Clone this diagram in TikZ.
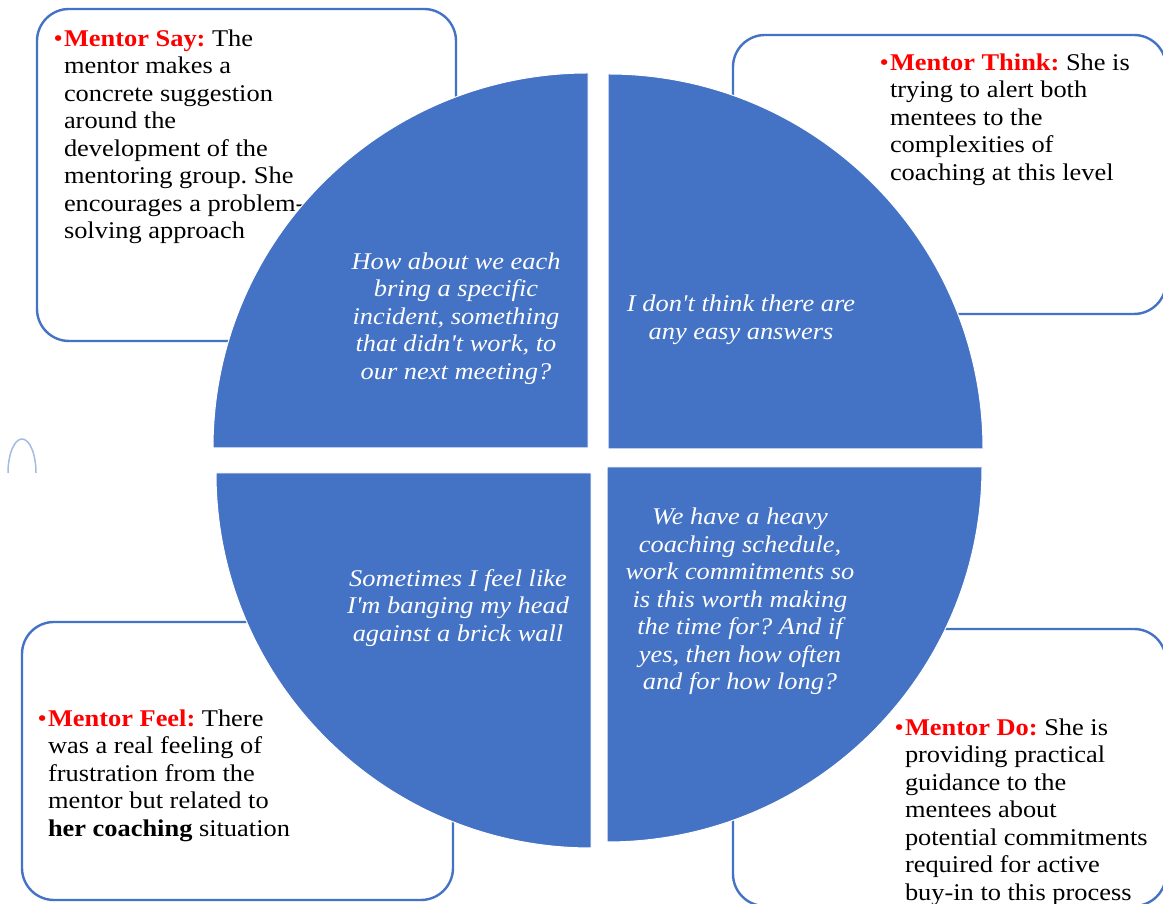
\documentclass[tikz,border=0pt]{standalone}
\usepackage{fontspec}
\setmainfont{Liberation Serif}
\newfontfamily\quotefont{Liberation Serif}
\usepackage{tikz}
\definecolor{quadblue}{HTML}{4472C4}
\definecolor{archblue}{HTML}{A4BBE6}
\definecolor{mentorred}{HTML}{FF0000}
\newcommand{\mentorlead}[1]{\llap{\textcolor{mentorred}{\textbullet}\kern1pt}\textcolor{mentorred}{\textbf{#1}}}
\frenchspacing

\begin{document}
\begin{tikzpicture}[x=1pt, y=1pt,
  every node/.style={inner sep=0pt, outer sep=0pt},
  card/.style={draw=quadblue, line width=2.4pt, rounded corners=32pt},
  quad/.style={fill=quadblue, draw=white, line width=1pt},
  note/.style={anchor=north west, align=left, xscale=1.1, transform shape, font=\fontsize{24}{27.5}\selectfont},
  quote/.style={align=center, text=white, xscale=1.1, transform shape, font=\fontsize{24}{27.5}\selectfont\quotefont\itshape}]
\useasboundingbox[fill=white] (0,0) rectangle (1163,904);

\draw[card] (37,563) rectangle (456,895);
\draw[card] (733,590) rectangle (1166,869);
\draw[card] (22,4) rectangle (453,282);
\draw[card] (733,-2) rectangle (1166,275);

\draw[archblue, line width=1.5pt] (8,431) arc[start angle=180, end angle=0, x radius=14pt, y radius=34pt];

\node[note] (say) at (64,874.4) {\mentorlead{Mentor Say:} The\\ mentor makes a\\ concrete suggestion\\ around the\\ development of the\\ mentoring group. She\\ encourages a problem-\\ solving approach};
\node[note] (think) at (890,850.4) {\mentorlead{Mentor Think:} She is\\ trying to alert both\\ mentees to the\\ complexities of\\ coaching at this level};
\node[note] (feel) at (48,194.4) {\mentorlead{Mentor Feel:} There\\ was a real feeling of\\ frustration from the\\ mentor but related to\\ \textbf{her coaching} situation};
\node[note] (doing) at (905,185.4) {\mentorlead{Mentor Do:} She is\\ providing practical\\ guidance to the\\ mentees about\\ potential commitments\\ required for active\\ buy-in to this process};

\path[quad] (588,456) -- (213,456) arc[start angle=180, end angle=90, radius=375pt] -- cycle;
\path[quad] (608,455) -- (608,830) arc[start angle=90, end angle=0, radius=375pt] -- cycle;
\path[quad] (591,431) -- (216,431) arc[start angle=180, end angle=270, radius=375pt] -- cycle;
\path[quad] (607,437) -- (607,62) arc[start angle=270, end angle=360, radius=375pt] -- cycle;

\node[quote] (sayQuote) at (456,585.5) {How about we each\\ bring a specific\\ incident, something\\ that didn't work, to\\ our next meeting?};
\node[quote] (thinkQuote) at (741,584) {I don't think there are\\ any easy answers};
\node[quote] (feelQuote) at (458,296) {Sometimes I feel like\\ I'm banging my head\\ against a brick wall};
\node[quote] (doingQuote) at (740,302.5) {We have a heavy\\ coaching schedule,\\ work commitments so\\ is this worth making\\ the time for? And if\\ yes, then how often\\ and for how long?};
\end{tikzpicture}
\end{document}
